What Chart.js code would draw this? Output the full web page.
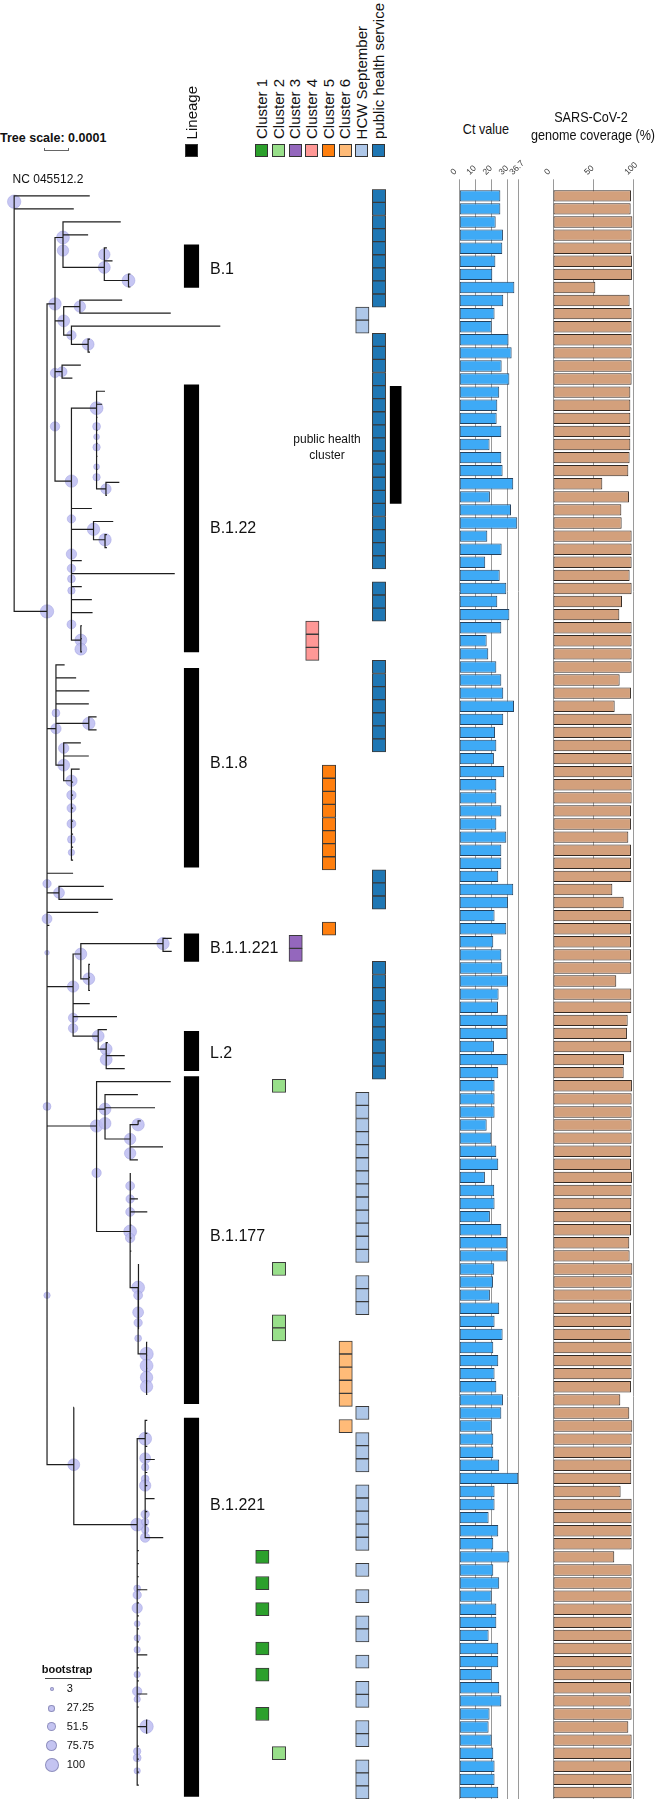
<!DOCTYPE html>
<html>
<head>
<meta charset="utf-8">
<script src="https://cdn.jsdelivr.net/npm/chart.js@4.4.1/dist/chart.umd.min.js"></script>
<style>
body { margin: 0; background: #fff; }
#wrap { position: relative; width: 658px; height: 1799px; overflow: hidden;
        font-family: 'Liberation Sans', Arial, sans-serif; color: #111; }
canvas { position: absolute; }
.t { position: absolute; white-space: nowrap; line-height: 1; }
.vert { position: absolute; writing-mode: vertical-rl; transform: rotate(180deg);
        font-size: 15px; line-height: 16px; white-space: nowrap; }
.sq { position: absolute; width: 13px; height: 13px; box-sizing: border-box; border: 1px solid #333; }
.dot { position: absolute; border-radius: 50%; box-sizing: border-box;
       background: rgba(190,190,240,0.9); border: 1px solid rgba(120,120,170,0.7); }
</style>
</head>
<body>
<div id="wrap">
  <canvas id="tree" width="240" height="1629" style="left:0;top:170px"></canvas>
  <canvas id="lineage" width="27" height="1629" style="left:178px;top:170px"></canvas>
  <canvas id="clusters" width="150" height="1629" style="left:253.6px;top:170px"></canvas>
  <canvas id="ct" width="110" height="1649" style="left:440px;top:150px"></canvas>
  <canvas id="cov" width="128" height="1649" style="left:530px;top:150px"></canvas>

  <div class="t" style="left:0;top:132px;font-weight:bold;font-size:12.5px">Tree scale: 0.0001</div>
  <div style="position:absolute;left:44px;top:148px;width:25px;height:3px;border-bottom:1px solid #666;border-left:1px solid #666;border-right:1px solid #666;box-sizing:border-box"></div>
  <div class="t" style="left:12.6px;top:173px;font-size:12px">NC 045512.2</div>

  <div class="t" style="left:485.7px;top:122px;font-size:14.5px;transform:translateX(-50%) scaleX(0.87)">Ct value</div>
  <div class="t" style="left:591px;top:110px;font-size:14.5px;transform:translateX(-50%) scaleX(0.87)">SARS-CoV-2</div>
  <div class="t" style="left:592.7px;top:128px;font-size:14.5px;transform:translateX(-50%) scaleX(0.87)">genome coverage (%)</div>
</div>
<script>
// row = one sequenced sample, top to bottom
const ctValues = [25.5, 25.5, 22.6, 27.1, 26.7, 22.4, 20.5, 34.2, 27.3, 21.9,
    20.1, 30.6, 32.5, 26.3, 31.1, 24.8, 23.6, 23.2, 26.1, 18.8,
    26.1, 26.9, 33.5, 19.0, 32.1, 36.0, 17.4, 26.3, 16.1, 25.1,
    29.2, 23.6, 31.1, 26.1, 17.0, 18.0, 23.0, 26.1, 27.3, 34.0,
    27.3, 22.2, 23.0, 21.5, 27.9, 23.0, 23.0, 26.1, 23.0, 29.2,
    26.1, 26.1, 24.2, 33.5, 30.2, 21.9, 29.2, 21.1, 26.1, 26.7,
    30.2, 24.4, 24.0, 29.8, 29.8, 21.5, 30.0, 24.2, 21.9, 21.9,
    21.9, 17.0, 19.9, 23.0, 24.2, 15.9, 21.7, 21.9, 19.0, 26.1,
    29.8, 29.8, 21.7, 20.9, 19.0, 24.8, 21.9, 26.9, 21.1, 24.2,
    21.9, 23.0, 27.1, 26.1, 20.1, 21.1, 21.1, 24.8, 36.6, 21.9,
    21.9, 18.2, 24.2, 21.1, 31.1, 21.1, 24.8, 20.1, 23.0, 23.0,
    18.2, 24.2, 24.2, 20.1, 24.8, 26.1, 18.8, 18.2, 20.1, 21.1,
    21.9, 21.9, 24.2];
const covValues = [97.1, 96.7, 98.8, 97.9, 97.5, 98.3, 98.3, 52.7, 95.4, 97.9,
    97.9, 97.9, 97.9, 97.9, 97.9, 96.3, 96.3, 96.3, 96.3, 96.3,
    95.4, 93.8, 61.4, 94.6, 85.1, 85.5, 97.9, 97.9, 97.9, 95.4,
    97.9, 85.9, 82.6, 97.9, 97.9, 97.9, 97.9, 83.0, 97.1, 76.8,
    97.9, 97.9, 97.5, 97.9, 98.8, 97.9, 97.9, 97.1, 97.1, 93.8,
    97.1, 97.1, 97.5, 73.9, 88.0, 97.5, 97.1, 97.1, 97.1, 97.5,
    78.8, 97.5, 97.5, 93.0, 92.1, 97.5, 88.4, 88.0, 98.3, 97.9,
    97.9, 97.9, 97.9, 97.5, 97.1, 98.3, 97.9, 97.5, 97.5, 97.1,
    95.0, 95.4, 98.8, 97.9, 97.9, 97.1, 97.5, 96.7, 97.9, 97.9,
    97.9, 97.1, 83.8, 95.0, 98.8, 97.9, 97.5, 97.5, 97.5, 84.2,
    97.9, 97.9, 97.9, 97.9, 76.3, 97.9, 97.9, 97.9, 97.9, 97.9,
    97.9, 97.9, 97.9, 97.9, 97.1, 96.7, 97.9, 93.8, 97.9, 97.5,
    97.1, 97.9, 97.9];
const ctTicks = [0, 10, 20, 30, 36.7];
const covTicks = [0, 50, 100];

// lineage blocks: name, first row edge, last row edge, label row
const lineageNames = ['B.1', 'B.1.22', 'B.1.8', 'B.1.1.221', 'L.2', 'B.1.177', 'B.1.221'];
const lineageStart = [4.75, 15.45, 37.1, 57.4, 64.85, 68.3, 94.4];
const lineageEnd = [8.0, 35.85, 52.3, 59.5, 67.85, 93.3, 123.3];
const lineageLabelRow = [6.6, 26.4, 44.3, 58.5, 66.5, 80.5, 101];

// annotation columns and the rows marked in each
const clusterNames = ['Cluster 1', 'Cluster 2', 'Cluster 3', 'Cluster 4', 'Cluster 5', 'Cluster 6',
    'HCW September', 'public health service'];
const clusterColors = ['#2ca02c', '#98df8a', '#9467bd', '#ff9896', '#ff7f0e', '#ffbb78', '#aec7e8', '#1f77b4'];
const clusterRows = [
    [105, 107, 109, 112, 114, 117],
    [69, 83, 87, 88, 120],
    [58, 59],
    [34, 35, 36],
    [45, 46, 47, 48, 49, 50, 51, 52, 57],
    [89, 90, 91, 92, 93, 95],
    [10, 11, 70, 71, 72, 73, 74, 75, 76, 77, 78, 79, 80, 81, 82, 84, 85, 86, 94, 96, 97, 98,
     100, 101, 102, 103, 104, 106, 108, 110, 111, 113, 115, 116, 118, 119, 121, 122, 123],
    [1, 2, 3, 4, 5, 6, 7, 8, 9, 12, 13, 14, 15, 16, 17, 18, 19, 20, 21, 22, 23, 24, 25, 26, 27,
     28, 29, 31, 32, 33, 37, 38, 39, 40, 41, 42, 43, 53, 54, 55, 60, 61, 62, 63, 64, 65, 66, 67, 68]
];
const phClusterSpan = [15.55, 24.5];

// tree: id, parent, depth (1e-5 subs/site), row(s), bootstrap
const treeNodes = [
    ['R', null, 0, 1.45, 95],
    ['', 'R', 32.2, 1, null],
    ['', 'R', 25.4, 2, null],
    ['A', 'R', 14, 32.9, 95],
    ['B', 'A', 17.4, 9.3, 85],
    ['B1', 'B', 20.8, 4.2, 90],
    ['', 'B1', 45.4, 3, null],
    ['', 'B1', 31.5, 4, null],
    ['C', 'B1', 38.4, 6.5, 80],
    ['', 'C', 39.5, 5, null],
    ['', 'C', 41.9, 6, null],
    ['D', 'C', 48.7, 7.5, 90],
    ['', 'D', 49.5, [7, 8], null],
    ['E', 'B', 21.1, 10.6, 80],
    ['F', 'E', 28, 9.5, 75],
    ['', 'F', 46, 9, null],
    ['', 'F', 66.7, 10, null],
    ['G', 'E', 24.4, 11.7, 55],
    ['', 'G', 87.8, 11, null],
    ['G2', 'G', 31.5, 12.4, 80],
    ['', 'G2', 32.3, [12, 13], null],
    ['H', 'B', 20.4, 14.5, 60],
    ['', 'H', 28.4, 14, null],
    ['', 'H', 24.8, 15, null],
    ['I', 'B', 24.4, 22.9, 85],
    ['J', 'I', 35.1, 17.3, 90],
    ['', 'J', 38.7, 16, null],
    ['', 'J', 37.5, 17, null],
    ['', 'J', 35.5, [18, 19, 20, 21, 22], null],
    ['K', 'J', 39.1, 23.5, 65],
    ['', 'K', 44.8, 23, null],
    ['', 'K', 39.5, 24, null],
    ['', 'I', 33.1, 25, null],
    ['L', 'I', 33.8, 26.6, 85],
    ['', 'L', 42.2, 26, null],
    ['M', 'L', 38.7, 27.4, 85],
    ['', 'M', 39.5, [27, 28], null],
    ['', 'I', 28.8, 29, null],
    ['', 'I', 68.4, 30, null],
    ['', 'I', 28.8, 31, null],
    ['', 'I', 33.1, 32, null],
    ['', 'I', 33.4, 33, null],
    ['N2', 'I', 28.4, 35.1, 80],
    ['', 'N2', 28.9, [34, 35, 36], null],
    ['N', 'A', 17.8, 41.9, 65],
    ['', 'N', 21.5, 37, null],
    ['', 'N', 26.4, 38, null],
    ['', 'N', 32, 39, null],
    ['', 'N', 31.8, 40, null],
    ['O', 'N', 31.8, 41.5, 85],
    ['', 'O', 35.1, [41, 42], null],
    ['P', 'N', 21.1, 44.7, 80],
    ['', 'P', 28.4, 43, null],
    ['', 'P', 31.8, 44, null],
    ['Q', 'P', 24.4, 45.9, 75],
    ['', 'Q', 27.9, 45, null],
    ['', 'Q', 25.1, [46, 47, 48, 49, 50, 51, 52], null],
    ['', 'A', 25.1, 53, null],
    ['R2', 'A', 19.1, 54.5, 70],
    ['', 'R2', 38.2, 54, null],
    ['', 'R2', 42, 55, null],
    ['', 'A', 35.8, 56, null],
    ['', 'A', 15, 57, null],
    ['S', 'A', 25.1, 61.7, 75],
    ['T', 'S', 28.4, 59.2, 80],
    ['U', 'T', 63.4, 58.4, 85],
    ['', 'U', 67.1, [58, 59], null],
    ['V', 'T', 31.8, 61.1, 80],
    ['', 'V', 32.3, [60, 61, 62], null],
    ['', 'S', 32.2, 63, null],
    ['', 'S', 43.8, 64, null],
    ['W', 'S', 35.8, 65.5, 80],
    ['', 'W', 39.5, 65, null],
    ['X', 'W', 39.2, 66.5, 80],
    ['', 'X', 39.9, 66, null],
    ['', 'X', 47.1, [67, 68], null],
    ['Y', 'A', 35.1, 72.4, 85],
    ['', 'Y', 66.7, 69, null],
    ['Z', 'Y', 38.7, 71.1, 80],
    ['', 'Z', 52.7, 70, null],
    ['', 'Z', 60, 71, null],
    ['Z2', 'Z', 49.4, 73.4, 75],
    ['Z3', 'Z2', 52.8, 72.3, 85],
    ['', 'Z3', 53.9, 72, null],
    ['', 'Z2', 49.5, 73, null],
    ['', 'Z2', 63.4, 74, null],
    ['', 'Z2', 52.7, 75, null],
    ['AA', 'Y', 49.4, 80.5, 90],
    ['', 'AA', 49.5, [76, 77], null],
    ['', 'AA', 52.7, 78, null],
    ['', 'AA', 56.7, 79, null],
    ['', 'AA', 49.9, [80, 81, 82], null],
    ['EE', 'AA', 52.8, 84.8, 90],
    ['', 'EE', 53.1, [83, 84, 85, 86, 87, 88], null],
    ['FF', 'EE', 56.4, 89.9, 95],
    ['', 'FF', 56.7, [89, 90, 91, 92, 93], null],
    ['BB', 'A', 25.4, 98.4, 80],
    ['', 'BB', 25.5, 94, null],
    ['CC', 'BB', 52.4, 103, 90],
    ['DD', 'CC', 55.8, 96.4, 90],
    ['', 'DD', 56.7, [95, 96, 97, 99, 100, 102, 103], null],
    ['', 'DD', 59.9, 98, null],
    ['', 'DD', 59.8, 101, null],
    ['', 'DD', 63.5, 104, null],
    ['', 'CC', 53.1, [105, 106, 107, 109, 110, 111, 112, 114, 115, 117, 120, 121, 122, 123], null],
    ['', 'CC', 56.7, [108, 113, 116], null],
    ['GG', 'CC', 56.4, 118.5, 95],
    ['', 'GG', 56.7, [118, 119], null]
];
// bootstrap of collapsed nodes sitting on a parent's vertical: parent, row, bootstrap
const bootMarks = [
    ['B1', 5.2, 75], ['C', 5.5, 75], ['B', 14.6, 55], ['B', 18.7, 55],
    ['J', 18.7, 40], ['J', 19.5, 20], ['J', 20.3, 35], ['J', 21.8, 20], ['J', 22.6, 35],
    ['I', 25.8, 45], ['I', 28.5, 65], ['I', 29.6, 45], ['I', 30.4, 40], ['I', 31.3, 35],
    ['I', 33.9, 50], ['N2', 35.8, 80], ['N', 40.7, 40], ['P', 43.4, 65],
    ['Q', 47, 55], ['Q', 48, 50], ['Q', 49.2, 50], ['Q', 50.4, 40], ['Q', 51.4, 25],
    ['A', 53.8, 45], ['A', 56.5, 60], ['A', 59.1, 8], ['S', 64.1, 55], ['S', 64.9, 55],
    ['X', 67.3, 80], ['A', 70.9, 40], ['Z', 72.2, 80], ['Z2', 74.5, 75], ['Y', 76, 55],
    ['AA', 77, 50], ['AA', 78, 45], ['AA', 79, 50], ['AA', 81, 55],
    ['EE', 85.4, 50], ['EE', 86.7, 70], ['EE', 87.5, 45], ['EE', 88.7, 30],
    ['FF', 90.8, 90], ['FF', 91.7, 85], ['FF', 92.4, 85], ['A', 85.4, 25],
    ['DD', 97.9, 70], ['DD', 98.6, 35], ['DD', 99.5, 40], ['DD', 100, 75], ['DD', 102.2, 45],
    ['DD', 102.8, 35], ['DD', 103.4, 35], ['DD', 104, 55],
    ['CC', 107.9, 30], ['CC', 108.4, 45], ['CC', 109.4, 65], ['CC', 110.6, 20], ['CC', 111.7, 25],
    ['CC', 112.6, 25], ['CC', 114.5, 25], ['CC', 115.8, 55], ['CC', 116.4, 25],
    ['CC', 120.4, 35], ['CC', 120.9, 40], ['CC', 121.9, 25]
];
const bootLegend = [3, 27.25, 51.5, 75.75, 100];

const nRows = ctValues.length;
const rowIds = ctValues.map((v, i) => i + 1);
const bootR = b => 2.1 + 0.05 * (b - 3);
const wrap = document.getElementById('wrap');

function addText(html, left, top, style) {
    const d = document.createElement('div');
    d.className = 't';
    d.innerHTML = html;
    d.style.left = left + 'px';
    d.style.top = top + 'px';
    if (style) d.style.cssText += style;
    wrap.appendChild(d);
    return d;
}

const quiet = {
    responsive: false,
    animation: false,
    events: [],
    plugins: { legend: { display: false }, tooltip: { enabled: false } }
};
const rowAxis = { type: 'linear', display: false, reverse: true, min: 0.5, max: nRows + 0.5 };

// ---- tree ----
const byId = {};
treeNodes.forEach(n => { if (n[0]) byId[n[0]] = n; });
const segs = [];
const bubbles = [];
treeNodes.forEach(([id, par, d, rows, boot]) => {
    const list = Array.isArray(rows) ? rows : [rows];
    list.forEach(r => {
        if (par) {
            const p = byId[par];
            segs.push({ x: p[2], y: p[3] }, { x: p[2], y: r }, { x: d, y: r }, { x: d, y: null });
        }
        if (boot != null) bubbles.push({ x: d, y: r, r: bootR(boot) });
    });
});
bootMarks.forEach(([par, r, b]) => bubbles.push({ x: byId[par][2], y: r, r: bootR(b) }));

new Chart(document.getElementById('tree'), {
    type: 'scatter',
    data: {
        datasets: [{
            type: 'bubble',
            data: bubbles,
            backgroundColor: 'rgba(190,190,241,0.88)',
            borderColor: 'rgba(150,150,220,0.7)',
            borderWidth: 0.6,
            order: 2,
            clip: false
        }, {
            type: 'scatter',
            data: segs,
            showLine: true,
            spanGaps: false,
            borderColor: '#1e1e1e',
            borderWidth: 1.2,
            pointRadius: 0,
            order: 1,
            clip: false
        }]
    },
    options: {
        ...quiet,
        layout: { padding: { top: 19.3, left: 0, right: 0, bottom: 0 } },
        scales: {
            x: { type: 'linear', display: false, min: -2.92, max: 93.08 },
            y: rowAxis
        }
    }
});

// ---- lineage column ----
const linChart = new Chart(document.getElementById('lineage'), {
    type: 'bar',
    data: {
        labels: ['Lineage'],
        datasets: [{
            data: lineageStart.map((s, i) => ({ x: 'Lineage', y: [s, lineageEnd[i]] })),
            backgroundColor: '#000',
            borderWidth: 0,
            barThickness: 14.5,
            grouped: false
        }]
    },
    options: {
        ...quiet,
        layout: { padding: { top: 19.3 } },
        scales: { x: { display: false }, y: rowAxis }
    }
});

// ---- cluster / origin columns ----
const clusterDatasets = clusterRows.map((rows, i) => ({
    data: rows.map(r => ({ x: clusterNames[i], y: [r - 0.5, r + 0.5] })),
    backgroundColor: clusterColors[i],
    borderColor: '#3a3a3a',
    borderWidth: 1,
    borderSkipped: false,
    barThickness: 13.3,
    grouped: false
}));
clusterDatasets.push({
    data: [{ x: 'public health cluster', y: phClusterSpan }],
    backgroundColor: '#000',
    borderWidth: 0,
    barThickness: 11,
    grouped: false
});
const clChart = new Chart(document.getElementById('clusters'), {
    type: 'bar',
    data: { labels: clusterNames.concat(['public health cluster']), datasets: clusterDatasets },
    options: {
        ...quiet,
        layout: { padding: { top: 19.3 } },
        scales: { x: { display: false }, y: rowAxis }
    }
});

// ---- bar charts ----
function barChart(id, values, ticks, max, padL, padR, fill, edge) {
    return new Chart(document.getElementById(id), {
        type: 'bar',
        data: {
            labels: rowIds,
            datasets: [{
                data: values,
                backgroundColor: fill,
                borderColor: edge,
                borderWidth: 1,
                borderSkipped: false,
                barPercentage: 0.87,
                categoryPercentage: 1
            }]
        },
        options: {
            ...quiet,
            indexAxis: 'y',
            layout: { padding: { left: padL, right: padR, top: 0, bottom: 0 } },
            scales: {
                x: {
                    position: 'top',
                    min: 0,
                    max: max,
                    z: 1,
                    afterBuildTicks: s => { s.ticks = ticks.map(v => ({ value: v })); },
                    afterFit: s => { s.height = 39.3; s.paddingLeft = 0; s.paddingRight = 0; },
                    ticks: {
                        autoSkip: false,
                        minRotation: 45,
                        maxRotation: 45,
                        padding: 2,
                        color: '#333',
                        font: { size: 8.5, family: 'Liberation Sans' },
                        callback: v => String(v)
                    },
                    grid: { color: '#9a9a9a', lineWidth: 1, tickLength: 10 },
                    border: { display: false }
                },
                y: { display: false }
            }
        }
    });
}
barChart('ct', ctValues, ctTicks, 40, 19.3, 26.3, '#3eaaf6', '#24425f');
barChart('cov', covValues, covTicks, 100, 23, 24.7, '#d3a07c', '#352a23');

// ---- header labels and key squares, placed from the column scales ----
const top0 = 170;
const linX = 178 + linChart.scales.x.getPixelForValue(0);
const vLin = document.createElement('div');
vLin.className = 'vert';
vLin.textContent = 'Lineage';
vLin.style.left = (linX - 8) + 'px';
vLin.style.bottom = (1799 - 139) + 'px';
wrap.appendChild(vLin);
const sqL = document.createElement('div');
sqL.className = 'sq';
sqL.style.cssText += `left:${linX - 6.5}px;top:143.5px;background:#000`;
wrap.appendChild(sqL);

clusterNames.forEach((name, i) => {
    const cx = 253.6 + clChart.scales.x.getPixelForValue(i);
    const v = document.createElement('div');
    v.className = 'vert';
    v.textContent = name;
    v.style.left = (cx - 8) + 'px';
    v.style.bottom = (1799 - 139) + 'px';
    wrap.appendChild(v);
    const s = document.createElement('div');
    s.className = 'sq';
    s.style.cssText += `left:${cx - 6.5}px;top:143.5px;background:${clusterColors[i]}`;
    wrap.appendChild(s);
});

// lineage names beside their blocks
const ly = linChart.scales.y;
lineageNames.forEach((name, i) => {
    const y = top0 + ly.getPixelForValue(lineageLabelRow[i]);
    addText(name, 210, y - 8, 'font-size:16px');
});

// public health cluster note
const phy = top0 + clChart.scales.y.getPixelForValue((phClusterSpan[0] + phClusterSpan[1]) / 2);
addText('public health<br>cluster', 288, phy - 14,
    'font-size:12px;line-height:16px;text-align:center;width:78px');

// bootstrap key
addText('bootstrap', 41.7, 1663.5, 'font-weight:bold;font-size:11px');
const ul = document.createElement('div');
ul.style.cssText = 'position:absolute;left:45px;top:1678px;width:46px;height:0;border-top:1px solid #444';
wrap.appendChild(ul);
const keyY = [1689.4, 1708.3, 1726.8, 1745.7, 1765];
bootLegend.forEach((b, i) => {
    const r = bootR(b);
    const d = document.createElement('div');
    d.className = 'dot';
    d.style.cssText += `left:${51.7 - r}px;top:${keyY[i] - r}px;width:${2 * r}px;height:${2 * r}px`;
    wrap.appendChild(d);
    addText(String(b), 66.7, keyY[i] - 6, 'font-size:11px');
});
</script>
</body>
</html>
